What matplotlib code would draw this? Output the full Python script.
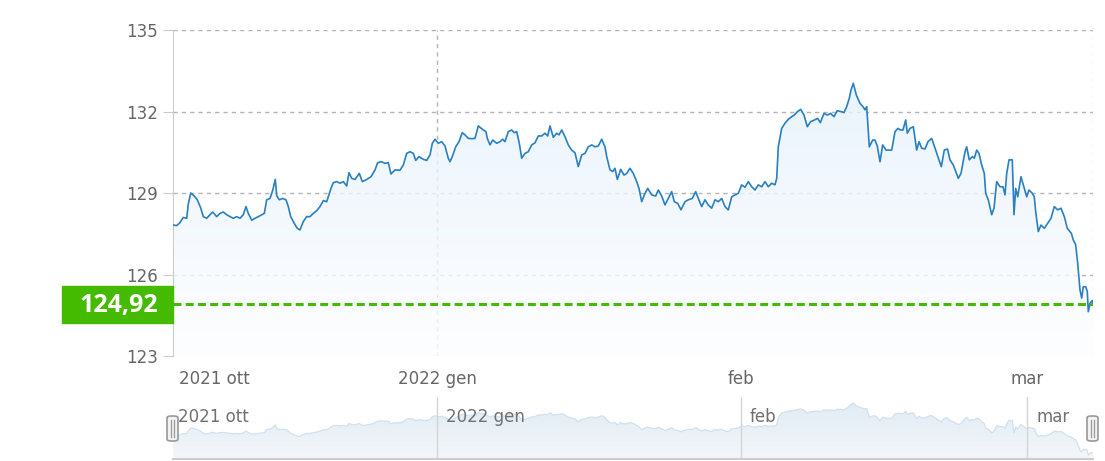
import numpy as np
import matplotlib.pyplot as plt
from matplotlib.patches import Rectangle, FancyBboxPatch

# Serie dei prezzi (indice temporale ordinale, valore)
t = [0.3, 3.7, 6.7, 10.3, 13.7, 15.3, 17.7, 21.0, 24.3, 27.7, 30.3, 33.7, 37.0, 39.7,
     43.7, 47.0, 50.3, 53.7, 57.0, 60.3, 63.7, 67.0, 70.3, 73.0, 75.3, 78.7, 82.0, 85.3,
     88.7, 91.3, 93.7, 97.0, 99.7, 102.3, 103.7, 106.3, 109.7, 113.0, 115.3, 117.7, 121.0,
     124.3, 127.0, 130.3, 133.7, 137.0, 140.3, 143.7, 147.0, 150.3, 153.7, 158.0, 160.3,
     163.7, 167.0, 170.3, 173.7, 176.0, 178.7, 182.0, 186.3, 189.3, 193.7, 198.0, 202.0,
     204.7, 208.7, 212.0, 215.3, 218.0, 222.0, 227.0, 230.3, 233.7, 237.0, 240.3, 242.7,
     246.0, 250.3, 253.7, 257.0, 259.3, 262.0, 265.3, 268.7, 272.0, 275.3, 277.0, 279.3,
     282.7, 286.0, 289.3, 292.0, 295.3, 298.7, 302.0, 305.3, 310.3, 313.0, 314.3, 317.0,
     319.7, 323.7, 327.0, 329.7, 332.0, 335.3, 338.7, 341.3, 343.7, 346.3, 348.7, 352.0,
     355.3, 358.7, 362.0, 365.3, 368.7, 372.0, 374.7, 377.0, 380.3, 383.7, 386.0, 388.7,
     392.0, 395.3, 398.7, 402.0, 405.3, 408.7, 412.0, 415.3, 418.7, 422.0, 425.3, 428.7,
     432.0, 433.7, 437.0, 439.7, 442.0, 444.3, 447.7, 451.0, 453.7, 457.0, 460.3, 463.7,
     466.0, 468.7, 471.3, 474.7, 478.7, 482.7, 485.3, 488.7, 492.0, 495.3, 498.7, 501.3,
     504.7, 508.0, 512.0, 515.3, 519.3, 522.7, 525.3, 528.7, 532.0, 535.3, 538.7, 542.0,
     545.3, 548.7, 552.0, 555.3, 558.7, 562.0, 565.3, 568.7, 572.0, 575.3, 578.7, 582.0,
     585.3, 588.7, 592.0, 595.3, 598.7, 602.0, 603.7, 605.3, 608.7, 612.0, 615.3, 618.7,
     621.3, 624.3, 627.7, 631.0, 634.3, 637.7, 641.0, 644.7, 647.3, 651.0, 654.3, 657.7,
     661.0, 664.3, 667.7, 671.0, 673.7, 676.3, 678.0, 680.3, 683.3, 687.0, 690.0, 692.0,
     693.7, 696.3, 699.7, 702.0, 704.3, 707.0, 709.7, 713.0, 716.3, 718.7, 722.0, 725.0,
     727.3, 730.0, 732.7, 734.3, 737.0, 740.3, 743.7, 746.0, 748.7, 752.0, 755.0, 758.7,
     762.0, 765.0, 768.3, 771.3, 774.5, 777.0, 780.3, 782.7, 785.3, 788.0, 792.0, 793.7,
     796.3, 799.3, 801.3, 803.7, 806.0, 808.7, 811.3, 812.7, 815.3, 818.7, 821.0, 823.7,
     827.0, 830.0, 832.0, 833.7, 836.0, 839.3, 841.0, 842.7, 844.7, 848.0, 850.3, 853.7,
     856.0, 859.3, 861.3, 862.7, 865.3, 868.0, 871.3, 874.7, 878.0, 881.3, 884.7, 888.0,
     891.3, 894.3, 898.3, 900.3, 902.7, 904.7, 907.0, 908.7, 910.3, 912.7, 914.3, 915.3,
     917.0, 919.3, 920.0]
prezzo = [127.82, 127.80, 127.90, 128.10, 128.07, 128.60, 129.00, 128.90, 128.75, 128.45,
          128.13, 128.07, 128.20, 128.30, 128.13, 128.25, 128.30, 128.20, 128.13, 128.07,
          128.13, 128.07, 128.20, 128.50, 128.25, 128.00, 128.07, 128.13, 128.20, 128.25,
          128.75, 128.80, 129.10, 129.50, 128.90, 128.75, 128.80, 128.75, 128.50, 128.13,
          127.90, 127.70, 127.64, 127.95, 128.13, 128.13, 128.25, 128.35, 128.50, 128.72,
          128.68, 129.17, 129.38, 129.42, 129.36, 129.42, 129.26, 129.75, 129.54, 129.50,
          129.72, 129.42, 129.50, 129.60, 129.85, 130.12, 130.15, 130.09, 130.12, 129.70,
          129.85, 129.84, 130.03, 130.46, 130.52, 130.46, 130.20, 130.34, 130.24, 130.20,
          130.40, 130.83, 130.98, 130.83, 130.89, 130.73, 130.28, 130.15, 130.34, 130.70,
          130.89, 131.22, 131.14, 131.01, 131.00, 131.01, 131.47, 131.32, 131.26, 131.01,
          130.77, 130.95, 130.83, 130.89, 130.98, 130.89, 131.26, 131.32, 131.22, 131.26,
          130.83, 130.28, 130.46, 130.52, 130.77, 130.85, 131.10, 131.10, 131.20, 131.10,
          131.47, 131.05, 131.20, 131.14, 131.32, 131.07, 130.77, 130.58, 130.48, 129.97,
          130.40, 130.46, 130.70, 130.77, 130.70, 130.73, 130.98, 130.70, 130.34, 129.85,
          129.79, 129.91, 129.50, 129.87, 129.66, 129.72, 129.91, 129.72, 129.42, 129.17,
          128.68, 128.93, 129.17, 128.93, 128.89, 129.11, 128.89, 128.56, 128.80, 129.05,
          128.68, 128.62, 128.38, 128.68, 128.75, 128.80, 129.05, 128.80, 128.50, 128.75,
          128.56, 128.44, 128.75, 128.68, 128.80, 128.50, 128.38, 128.86, 128.93, 128.99,
          129.30, 129.21, 129.42, 129.23, 129.11, 129.30, 129.23, 129.42, 129.23, 129.36,
          129.30, 129.54, 130.70, 131.38, 131.57, 131.71, 131.81, 131.87, 131.99, 132.08,
          131.87, 131.44, 131.63, 131.68, 131.75, 131.59, 131.93, 131.87, 131.93, 131.81,
          132.03, 132.00, 131.96, 132.18, 132.49, 132.79, 133.04, 132.61, 132.30, 132.18,
          132.06, 132.18, 130.70, 130.95, 130.95, 130.73, 130.15, 130.77, 130.58, 130.58,
          130.58, 131.26, 131.38, 131.32, 131.32, 131.69, 131.20, 131.38, 131.44, 130.58,
          130.89, 130.65, 130.62, 130.89, 131.01, 130.65, 130.31, 129.97, 130.58, 130.62,
          130.22, 130.03, 129.79, 129.54, 129.72, 130.52, 130.70, 130.22, 130.34, 130.28,
          130.58, 130.46, 130.03, 129.72, 128.99, 128.75, 128.20, 128.44, 129.42, 129.23,
          129.23, 128.93, 129.72, 130.22, 130.22, 128.20, 129.17, 128.86, 129.60, 129.30,
          128.86, 129.11, 128.99, 128.86, 128.31, 127.58, 127.82, 127.70, 127.89, 128.07,
          128.50, 128.38, 128.44, 128.13, 127.70, 127.52, 127.27, 127.09, 126.41, 125.43,
          125.13, 125.55, 125.55, 125.37, 124.63, 124.94, 125.04, 124.92]

mesi_pos = [0, 264, 568, 854]
mesi_lab = ['2021 ott', '2022 gen', 'feb', 'mar']
y_ticks = [123, 126, 129, 132, 135]
ultimo = prezzo[-1]

t = np.array(t)
prezzo = np.array(prezzo)
W, H = 1105, 461
x0 = t.min() - 0.3
x1 = t.max()


def sfumatura(ax, x, y, base, top_rgb, bot_rgb, alpha, ymax):
    area = ax.fill_between(x, y, base, facecolor='none', edgecolor='none')
    grad = np.zeros((200, 1, 4))
    k = np.linspace(0, 1, 200)[:, None]
    grad[:, 0, :3] = np.array(top_rgb) * (1 - k) + np.array(bot_rgb) * k
    grad[:, 0, 3] = alpha
    im = ax.imshow(grad, extent=[x0, x1, base, ymax], origin='upper',
                   aspect='auto', zorder=1)
    im.set_clip_path(area.get_paths()[0], transform=ax.transData)


fig = plt.figure(figsize=(W / 100, H / 100), dpi=100)
ax = fig.add_axes([173 / W, 1 - 356 / H, 920 / W, 326 / H])

# griglia
for yv in y_ticks:
    ax.axhline(yv, color='#b3b3b3', lw=1, ls=(0, (3, 3)), zorder=0)
ax.axvline(mesi_pos[1], color='#b3b3b3', lw=1, ls=(0, (3, 3)), zorder=0)
ax.axvline(x1, color='#dddddd', lw=1, ls=(0, (3, 3)), zorder=0)

# area con sfumatura
sfumatura(ax, t, prezzo, 123, (0.90, 0.945, 0.99), (0.995, 0.997, 1.0), 0.8, prezzo.max())

ax.plot(t, prezzo, color='#2980c0', lw=1.2, zorder=3)

# linea ultimo prezzo
ax.axhline(ultimo, color='#44bb00', lw=2.2, ls=(0, (2.6, 1.4)), zorder=4)

ax.set_xlim(x0, x1)
ax.set_ylim(123, 135)
ax.set_yticks(y_ticks)
ax.set_yticklabels([str(v) for v in y_ticks])
ax.tick_params(axis='y', length=7, color='#cccccc', labelcolor='#666666',
               labelsize=12, pad=4)
ax.set_xticks(mesi_pos[1:])
ax.set_xticklabels(mesi_lab[1:])
ax.tick_params(axis='x', length=0, labelcolor='#666666', labelsize=12, pad=10)
# la prima etichetta e' allineata al bordo sinistro
ax.annotate(mesi_lab[0], xy=(mesi_pos[0], 0), xycoords=('data', 'axes fraction'),
            xytext=(4, -10), textcoords='offset points', ha='left', va='top',
            color='#666666', fontsize=12)
for s in ['top', 'right', 'bottom']:
    ax.spines[s].set_visible(False)
ax.spines['left'].set_color('#cccccc')
ax.set_facecolor('none')

# etichetta verde
fig.patches.append(Rectangle((62 / W, 1 - 322.5 / H), 110.5 / W, 37 / H,
                             transform=fig.transFigure, color='#44bb00', zorder=5))
fig.text(118.5 / W, 1 - 305 / H, f'{ultimo:.2f}'.replace('.', ','),
         color='white', fontsize=18, fontweight='bold',
         family=['Open Sans', 'DejaVu Sans'], ha='center', va='center', zorder=6)

# navigatore
nav = fig.add_axes([173 / W, 2 / H, 920 / W, 62 / H])
sfumatura(nav, t, prezzo, 124.0, (0.88, 0.925, 0.96), (0.955, 0.965, 0.975), 1.0,
          prezzo.max())
nav.plot(t, prezzo, color='#d3e1ee', lw=0.9)
for p in mesi_pos[1:]:
    nav.axvline(p, color='#d4d4d4', lw=1)
for p, lab in zip(mesi_pos, mesi_lab):
    nav.text(p + (5 if p == 0 else 9), 0.68, lab, transform=nav.get_xaxis_transform(),
             color='#707070', fontsize=12, ha='left', va='center', zorder=5)
nav.set_xlim(x0, x1)
nav.set_ylim(124.0, 134.0)
nav.set_xticks([])
nav.set_yticks([])
for s in ['top', 'left', 'right']:
    nav.spines[s].set_visible(False)
nav.spines['bottom'].set_color('#cccccc')
nav.spines['bottom'].set_linewidth(1.5)

# maniglie del navigatore
for hx in [172.5, 1092.5]:
    fig.patches.append(FancyBboxPatch(((hx - 5.5) / W, 1 - 441 / H), 11 / W, 25 / H,
                                      boxstyle='round,pad=0,rounding_size=0.004',
                                      transform=fig.transFigure, facecolor='#f2f2f2',
                                      edgecolor='#999999', lw=1.2, zorder=5))
    for dx in [-1.5, 1.5]:
        fig.add_artist(plt.Line2D([(hx + dx) / W] * 2, [1 - 437 / H, 1 - 420 / H],
                                  transform=fig.transFigure, color='#999999', lw=0.9,
                                  zorder=6))

fig.savefig('out.png', dpi=100)
